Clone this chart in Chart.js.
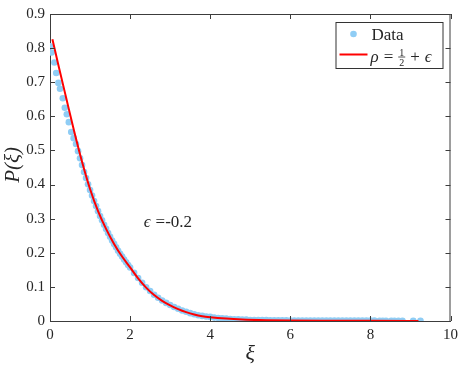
<!DOCTYPE html>
<html><head><meta charset="utf-8">
<script src="https://cdn.jsdelivr.net/npm/chart.js@4.4.0/dist/chart.umd.min.js"></script>
<style>html,body{margin:0;padding:0;background:#fff;}#wrap{width:463px;height:367px;}</style>
</head><body><div id="wrap"><canvas id="c" width="463" height="367"></canvas></div>
<script>
// ---- data ----
const dataX = [0.00,0.04,0.11,0.155,0.21,0.25,0.32,0.37,0.42,0.47,0.53,0.59,0.65,
  0.70,0.75,0.80,0.85,0.90,0.95,1.00,1.05,1.10,1.15,1.20,1.25,1.30,1.35,1.40,1.45,1.50,
  1.55,1.60,1.65,1.70,1.75,1.80,1.85,1.90,1.95,2.00,
  2.1,2.2,2.3,2.4,2.5,2.6,2.7,2.8,2.9,3.0,3.1,3.2,3.3,3.4,3.5,3.6,3.7,3.8,3.9,4.0,
  4.1,4.2,4.3,4.4,4.5,4.6,4.7,4.8,4.9,5.0,5.1,5.2,5.3,5.4,5.5,5.6,5.7,5.8,5.9,6.0,
  6.1,6.2,6.3,6.4,6.5,6.6,6.7,6.8,6.9,7.0,7.1,7.2,7.3,7.4,7.5,7.6,7.7,7.8,7.9,8.0,
  8.1,8.23,8.31,8.39,8.52,8.60,8.70,8.80,9.07,9.25];
const dataY = [0.805,0.787,0.758,0.727,0.698,0.681,0.653,0.625,0.606,0.583,0.554,0.536,0.519,
  0.498,0.477,0.457,0.437,0.419,0.401,0.384,0.368,0.352,0.337,0.322,0.308,0.295,0.282,0.270,0.258,0.247,
  0.236,0.226,0.216,0.206,0.197,0.189,0.180,0.172,0.164,0.157,
  0.141,0.126,0.112,0.099,0.088,0.077,0.068,0.060,0.053,0.047,0.041,0.036,0.031,0.027,0.023,0.020,0.017,0.015,0.013,0.012,
  0.010,0.009,0.008,0.007,0.006,0.005,0.005,0.004,0.004,0.003,0.003,0.003,0.0025,0.0025,0.002,0.002,0.002,0.002,0.002,0.0015,
  0.0015,0.0015,0.0015,0.0015,0.0015,0.0015,0.0012,0.0012,0.0012,0.0012,0.001,0.001,0.001,0.001,0.001,0.001,0.001,0.001,0.001,0.001,
  0.001,0.0008,0.0008,0.0008,0.0006,0.0006,0.0006,0.0006,0.0005,0.0005];
const fitX = [0.06,0.2,0.4,0.6,0.8,1.0,1.2,1.4,1.6,1.8,2.0,2.2,2.4,2.6,2.8,3.0,3.2,3.4,3.6,3.8,4.0,4.4,4.8,5.4,6.0,7.0,8.0,9.2];
const fitY = [0.826,0.755,0.656,0.558,0.467,0.387,0.322,0.270,0.226,0.189,0.157,0.125,0.098,0.076,0.059,0.046,0.035,0.026,0.019,0.014,0.011,0.007,0.0045,0.0025,0.0015,0.0008,0.0004,0.0002];
const xTicks = [0,2,4,6,8,10];
const yTicks = [0,0.1,0.2,0.3,0.4,0.5,0.6,0.7,0.8,0.9];
const seriesNames = ['Data','ρ = 1/2 + ϵ'];
const xTitle = 'ξ';
const yTitle = ' P(ξ)';
const noteText = ['ϵ', '=-0.2'];

// ---- styling ----
const AXIS = '#3c3c3c';
const TXT = '#262626';
const SERIF = '"Liberation Serif", "DejaVu Serif", serif';

const framePlugin = {
  id: 'frame',
  afterDraw(chart) {
    const {ctx, chartArea: a, scales} = chart;
    ctx.save();
    ctx.strokeStyle = AXIS;
    ctx.lineWidth = 1;
    ctx.beginPath();
    ctx.moveTo(a.left, a.top + 0.5); ctx.lineTo(a.right, a.top + 0.5);
    ctx.moveTo(a.right - 0.5, a.top); ctx.lineTo(a.right - 0.5, a.bottom);
    const L = 5;
    scales.x.ticks.forEach(t => {
      const px = Math.round(scales.x.getPixelForValue(t.value)) + 0.5;
      ctx.moveTo(px, a.bottom); ctx.lineTo(px, a.bottom - L);
      ctx.moveTo(px, a.top); ctx.lineTo(px, a.top + L);
    });
    scales.y.ticks.forEach(t => {
      const py = Math.round(scales.y.getPixelForValue(t.value)) + 0.5;
      ctx.moveTo(a.left, py); ctx.lineTo(a.left + L, py);
      ctx.moveTo(a.right, py); ctx.lineTo(a.right - L, py);
    });
    ctx.stroke();

    // annotation
    const nx = scales.x.getPixelForValue(2.34);
    const ny = scales.y.getPixelForValue(0.277);
    ctx.fillStyle = TXT;
    ctx.textBaseline = 'alphabetic';
    ctx.textAlign = 'left';
    ctx.font = 'italic 17px ' + SERIF;
    ctx.fillText(noteText[0], nx, ny);
    const w0 = ctx.measureText(noteText[0]).width;
    ctx.font = '17px ' + SERIF;
    ctx.fillText(noteText[1], nx + w0 + 5, ny);

    // legend box
    const bw = 107, bh = 46;
    const x0 = a.right - 8 - bw, y0 = a.top + 8;
    ctx.fillStyle = '#ffffff';
    ctx.fillRect(x0, y0, bw, bh);
    ctx.strokeStyle = '#333333';
    ctx.lineWidth = 1;
    ctx.strokeRect(x0 + 0.5, y0 + 0.5, bw, bh);
    // row 1: data marker
    const ds1 = chart.data.datasets[1];
    ctx.fillStyle = ds1.backgroundColor;
    ctx.beginPath(); ctx.arc(x0 + 18, y0 + 12, 3.3, 0, Math.PI * 2); ctx.fill();
    ctx.fillStyle = TXT;
    ctx.font = '17px ' + SERIF;
    ctx.fillText(seriesNames[0], x0 + 36, y0 + 18);
    // row 2: fit line
    const ds0 = chart.data.datasets[0];
    ctx.strokeStyle = ds0.borderColor; ctx.lineWidth = 2;
    ctx.beginPath(); ctx.moveTo(x0 + 4, y0 + 32.5); ctx.lineTo(x0 + 32, y0 + 32.5); ctx.stroke();
    // formula: rho = frac(1,2) + eps
    const parts = seriesNames[1].split(' '); // ['ρ','=','1/2','+','ϵ']
    const base = y0 + 39.5;
    let cx = x0 + 35;
    ctx.fillStyle = TXT;
    ctx.font = 'italic 17px ' + SERIF;
    ctx.fillText(parts[0], cx, base); cx += ctx.measureText(parts[0]).width + 5;
    ctx.font = '17px ' + SERIF;
    ctx.fillText(parts[1], cx, base); cx += ctx.measureText(parts[1]).width + 5;
    const [num, den] = parts[2].split('/');
    ctx.font = '10px ' + SERIF;
    const fw = Math.max(ctx.measureText(num).width, ctx.measureText(den).width) + 2;
    ctx.textAlign = 'center';
    ctx.fillText(num, cx + fw / 2, base - 6);
    ctx.fillText(den, cx + fw / 2, base + 4);
    ctx.strokeStyle = TXT; ctx.lineWidth = 0.8;
    ctx.beginPath(); ctx.moveTo(cx, base - 4.5); ctx.lineTo(cx + fw, base - 4.5); ctx.stroke();
    ctx.textAlign = 'left';
    cx += fw + 5;
    ctx.font = '17px ' + SERIF;
    ctx.fillText(parts[3], cx, base); cx += ctx.measureText(parts[3]).width + 5;
    ctx.font = 'italic 17px ' + SERIF;
    ctx.fillText(parts[4], cx, base);
    ctx.restore();
  }
};

new Chart(document.getElementById('c'), {
  type: 'scatter',
  data: {
    datasets: [
      {
        label: seriesNames[1], type: 'line',
        data: fitX.map((x, i) => ({x, y: fitY[i]})),
        borderColor: '#ff0000', borderWidth: 2, pointRadius: 0, fill: false,
        cubicInterpolationMode: 'monotone', order: 0
      },
      {
        label: seriesNames[0],
        data: dataX.map((x, i) => ({x, y: dataY[i]})),
        backgroundColor: '#8fcdf5', borderWidth: 0, pointRadius: 3.3, order: 1
      }
    ]
  },
  options: {
    responsive: false, animation: false,
    layout: {padding: {top: 6, right: 7, left: 0, bottom: 0}},
    plugins: {legend: {display: false}, tooltip: {enabled: false}},
    scales: {
      x: {
        type: 'linear', min: 0, max: 10,
        afterBuildTicks: s => { s.ticks = xTicks.map(v => ({value: v})); },
        grid: {display: false, drawTicks: false},
        border: {display: true, color: AXIS, width: 1},
        ticks: {padding: 5, color: TXT, maxRotation: 0, font: {family: SERIF, size: 15},
                callback: v => String(v)},
        title: {display: true, text: xTitle, color: TXT,
                font: {family: SERIF, size: 22, style: 'italic'}, padding: {top: 0, bottom: 0}},
        afterFit: s => { s.height = 46; }
      },
      y: {
        type: 'linear', min: 0, max: 0.9,
        afterBuildTicks: s => { s.ticks = yTicks.map(v => ({value: v})); },
        grid: {display: false, drawTicks: false},
        border: {display: true, color: AXIS, width: 1},
        ticks: {padding: 5, color: TXT, font: {family: SERIF, size: 15},
                callback: v => (v === 0 ? '0' : v.toFixed(1))},
        title: {display: true, text: yTitle, color: TXT,
                font: {family: SERIF, size: 21, style: 'italic'}, padding: {top: 1, bottom: 0}},
        afterFit: s => { s.width = 50; }
      }
    }
  },
  plugins: [framePlugin]
});
</script>
</body></html>
